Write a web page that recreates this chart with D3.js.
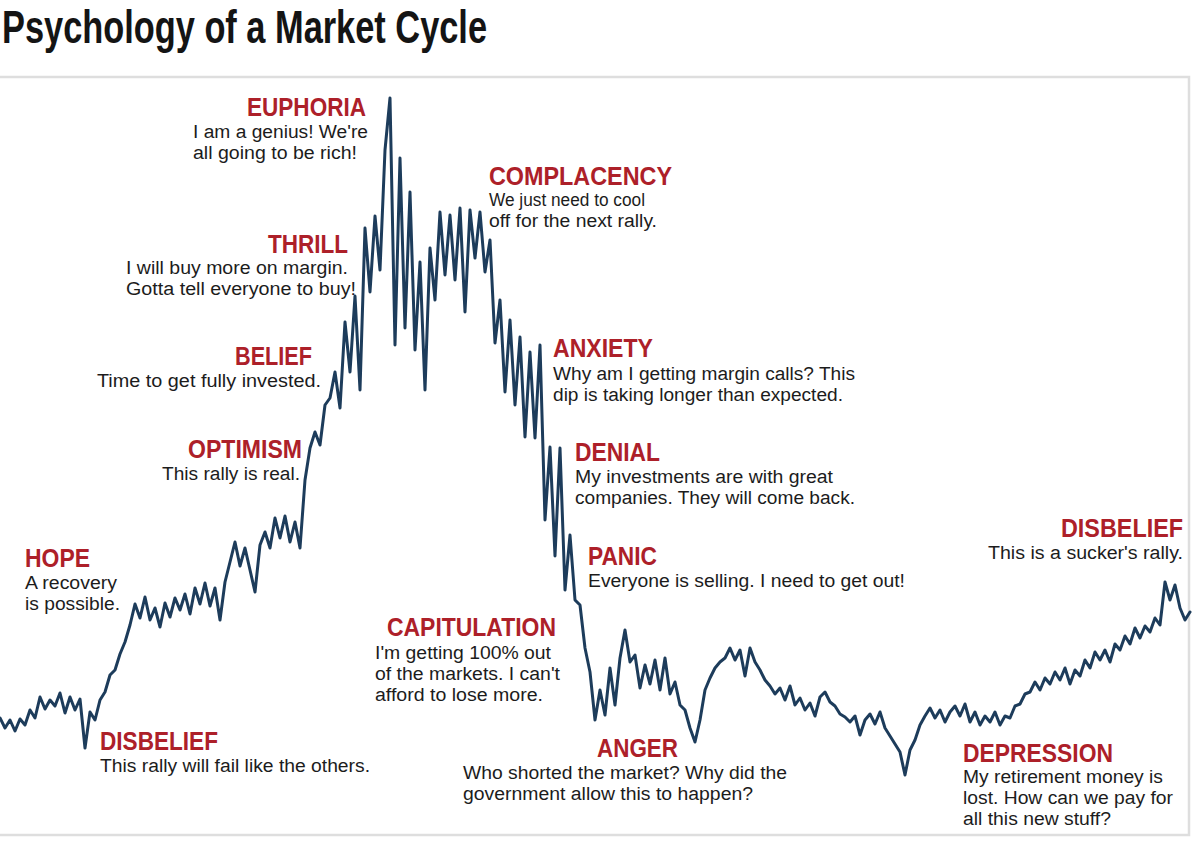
<!DOCTYPE html>
<html>
<head>
<meta charset="utf-8">
<script src="https://cdn.jsdelivr.net/npm/d3@7/dist/d3.min.js"></script>
<style>
  html, body { margin: 0; padding: 0; background: #fff; }
  svg { display: block; }
</style>
</head>
<body>
<svg id="chart" width="1200" height="846"></svg>
<script>
// index level of the market, one reading every trading step (left to right)
const levels = [
  122, 112, 120, 109, 121, 115, 130, 122, 143, 131,
  140, 134, 147, 127, 143, 130, 141, 92, 128, 120,
  140, 148, 165, 170, 186, 198, 215, 236, 222, 243,
  220, 232, 213, 237, 223, 242, 230, 246, 226, 252,
  236, 257, 234, 252, 220, 258, 278, 298, 274, 292,
  270, 248, 295, 308, 292, 322, 302, 324, 298, 318,
  292, 360, 392, 408, 395, 435, 442, 468, 432, 518,
  468, 544, 450, 612, 548, 624, 570, 690, 742, 495,
  682, 512, 648, 490, 578, 450, 592, 540, 628, 565,
  625, 560, 632, 528, 630, 582, 628, 568, 600, 497,
  540, 448, 520, 435, 503, 403, 488, 402, 495, 320,
  393, 284, 392, 250, 305, 240, 235, 192, 168, 120,
  150, 125, 172, 135, 182, 210, 178, 185, 152, 175,
  156, 180, 150, 182, 146, 158, 135, 130, 112, 98,
  120, 150, 162, 172, 178, 182, 192, 180, 190, 164,
  192, 178, 170, 160, 154, 146, 152, 140, 154, 135,
  142, 130, 137, 124, 143, 148, 138, 134, 126, 123,
  118, 124, 105, 120, 126, 116, 128, 112, 104, 96,
  88, 65, 90, 100, 115, 124, 132, 122, 130, 118,
  128, 134, 124, 136, 118, 128, 115, 124, 118, 128,
  115, 124, 122, 134, 136, 146, 148, 158, 150, 162,
  156, 168, 160, 172, 156, 170, 164, 180, 172, 188,
  180, 190, 178, 196, 190, 204, 196, 212, 202, 214,
  208, 222, 215, 258, 240, 255, 232, 220, 228
];

const title = "Psychology of a Market Cycle";

const phases = [
  "EUPHORIA", "COMPLACENCY", "THRILL", "BELIEF", "OPTIMISM", "HOPE",
  "DISBELIEF", "ANXIETY", "DENIAL", "PANIC", "CAPITULATION", "ANGER",
  "DISBELIEF", "DEPRESSION"
];

const quotes = [
  ["I am a genius! We're", "all going to be rich!"],
  ["We just need to cool", "off for the next rally."],
  ["I will buy more on margin.", "Gotta tell everyone to buy!"],
  ["Time to get fully invested."],
  ["This rally is real."],
  ["A recovery", "is possible."],
  ["This rally will fail like the others."],
  ["Why am I getting margin calls? This", "dip is taking longer than expected."],
  ["My investments are with great", "companies. They will come back."],
  ["Everyone is selling. I need to get out!"],
  ["I'm getting 100% out", "of the markets. I can't", "afford to lose more."],
  ["Who shorted the market? Why did the", "government allow this to happen?"],
  ["This is a sucker's rally."],
  ["My retirement money is", "lost. How can we pay for", "all this new stuff?"]
];

// where each annotation block sits on the page (heading x/baseline/width,
// quote x/first baseline/line widths)
const annotationLayout = [
  { hx: 247, hy: 116, hw: 119, qx: 193, qy: 138, qw: [175, 164] },
  { hx: 489, hy: 185, hw: 183, qx: 489, qy: 206, qw: [156, 168] },
  { hx: 268, hy: 253, hw: 80, qx: 126, qy: 274, qw: [222, 230] },
  { hx: 235, hy: 365, hw: 77, qx: 97, qy: 387, qw: [224] },
  { hx: 188, hy: 458, hw: 114, qx: 162, qy: 480, qw: [138] },
  { hx: 25, hy: 567, hw: 65, qx: 25, qy: 589, qw: [92, 95] },
  { hx: 100, hy: 750, hw: 118, qx: 100, qy: 772, qw: [270] },
  { hx: 553, hy: 357, hw: 100, qx: 553, qy: 380, qw: [302, 290] },
  { hx: 575, hy: 461, hw: 85, qx: 575, qy: 483, qw: [258, 280] },
  { hx: 588, hy: 565, hw: 69, qx: 588, qy: 587, qw: [317] },
  { hx: 387, hy: 636, hw: 169, qx: 375, qy: 659, qw: [176, 185, 168] },
  { hx: 597, hy: 757, hw: 81, qx: 463, qy: 779, qw: [324, 290] },
  { hx: 1061, hy: 537, hw: 122, qx: 988, qy: 559, qw: [195] },
  { hx: 963, hy: 762, hw: 150, qx: 963, qy: 783, qw: [200, 210, 148] }
];

const svg = d3.select('#chart');

const sans = '"Liberation Sans", Arial, Helvetica, sans-serif';

// chart frame
svg.append('rect')
  .attr('x', -2).attr('y', 77)
  .attr('width', 1191).attr('height', 758)
  .attr('fill', 'none')
  .attr('stroke', '#dedede')
  .attr('stroke-width', 2.5);

svg.append('text')
  .attr('x', 2).attr('y', 43)
  .attr('font-family', sans)
  .attr('font-weight', 'bold')
  .attr('font-size', 47)
  .attr('fill', '#141414')
  .attr('textLength', 485)
  .attr('lengthAdjust', 'spacingAndGlyphs')
  .text(title);

const x = d3.scaleLinear()
  .domain([0, levels.length - 1])
  .range([0, 1190]);

const y = d3.scaleLinear()
  .domain([0, 760])
  .range([840, 80]);

const line = d3.line()
  .x((d, i) => x(i))
  .y((d) => y(d));

svg.append('path')
  .datum(levels)
  .attr('d', line)
  .attr('fill', 'none')
  .attr('stroke', '#1d3c5b')
  .attr('stroke-width', 3)
  .attr('stroke-linejoin', 'round')
  .attr('stroke-linecap', 'round');

const notes = svg.append('g').attr('class', 'notes');

phases.forEach((name, i) => {
  const pos = annotationLayout[i];
  const g = notes.append('g');

  g.append('text')
    .attr('x', pos.hx).attr('y', pos.hy)
    .attr('font-family', sans)
    .attr('font-weight', 'bold')
    .attr('font-size', 25)
    .attr('fill', '#ad2029')
    .attr('textLength', pos.hw)
    .attr('lengthAdjust', 'spacingAndGlyphs')
    .text(name);

  quotes[i].forEach((q, j) => {
    g.append('text')
      .attr('x', pos.qx).attr('y', pos.qy + j * 21)
      .attr('font-family', sans)
      .attr('font-size', 18)
      .attr('fill', '#1c1c1c')
      .attr('textLength', pos.qw[j])
      .attr('lengthAdjust', 'spacingAndGlyphs')
      .text(q);
  });
});
</script>
</body>
</html>
